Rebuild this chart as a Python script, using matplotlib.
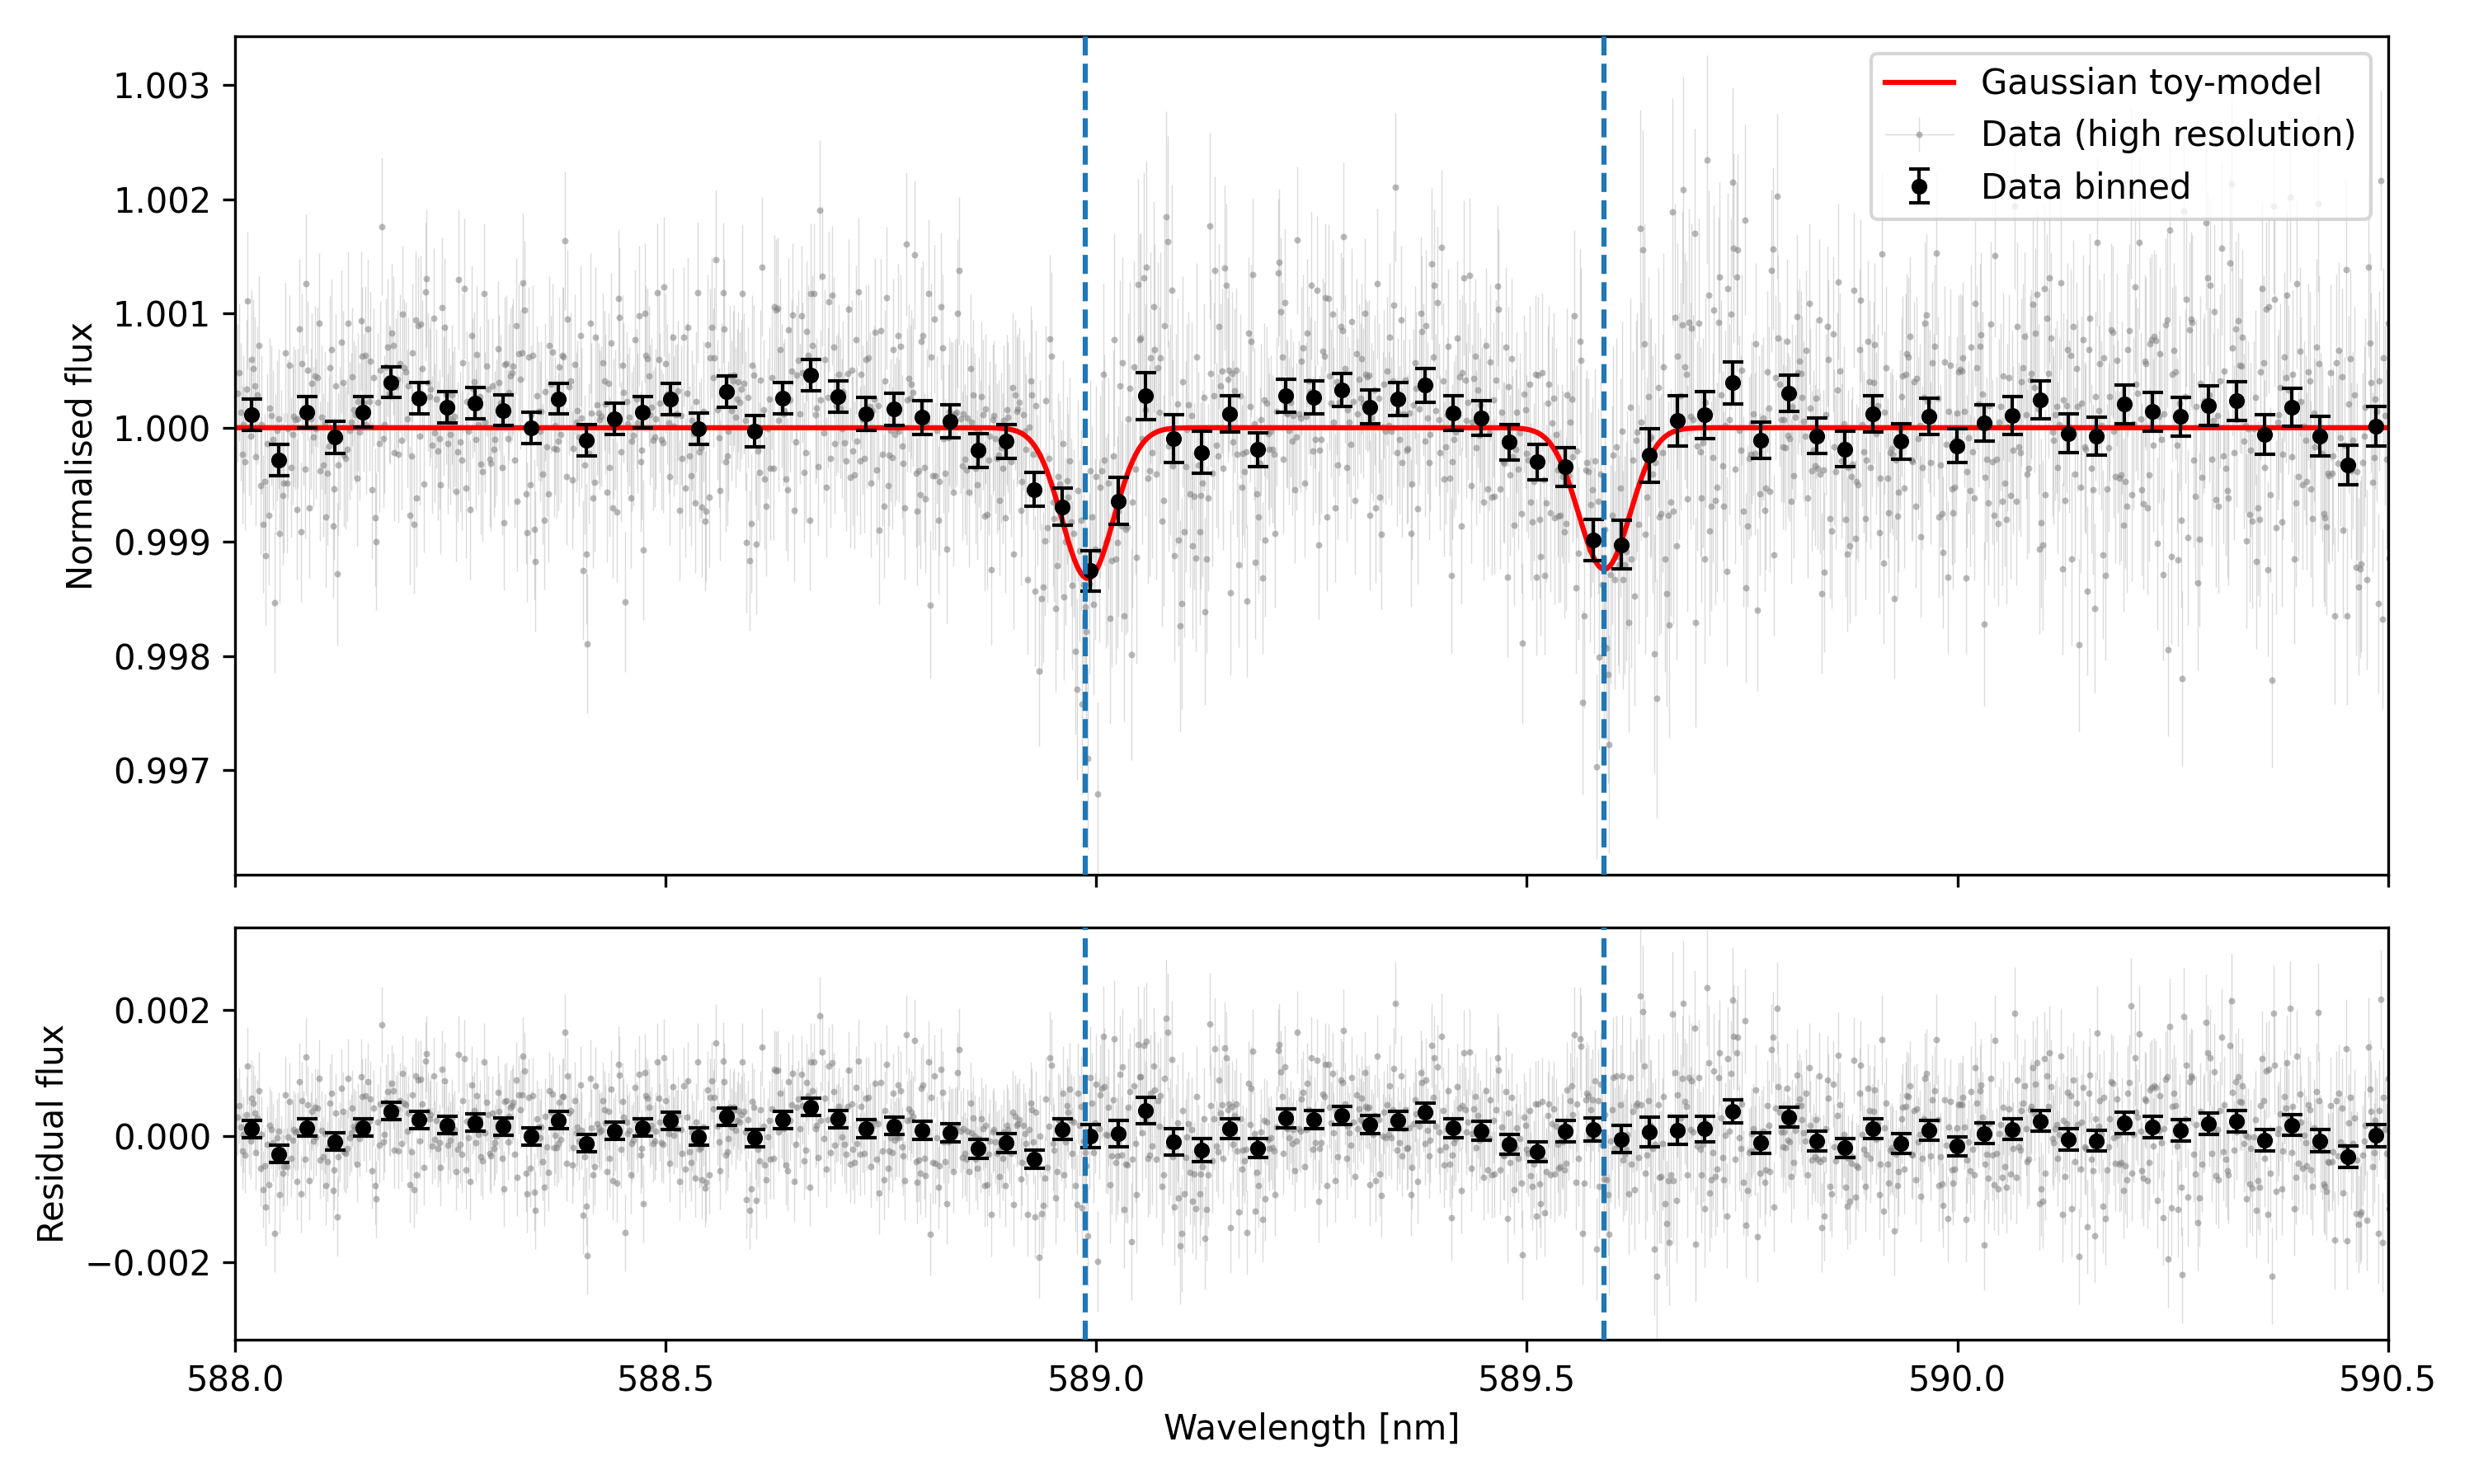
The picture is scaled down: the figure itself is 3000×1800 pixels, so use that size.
import numpy as np
import matplotlib
matplotlib.use("Agg")
import matplotlib.pyplot as plt

# ---------------- data ----------------
# binned normalised flux (77 bins, 588.0 - 590.5 nm)
binned_flux = [
    1.000113, 0.999718, 1.000133, 0.999916, 1.000137, 1.000398, 1.000258, 1.000176, 1.000212, 1.000152,
    1.000000, 1.000253, 0.999887, 1.000080, 1.000133, 1.000248, 0.999993, 1.000313, 0.999969, 1.000258,
    1.000458, 1.000272, 1.000120, 1.000161, 1.000089, 1.000055, 0.999800, 0.999880, 0.999458, 0.999308,
    0.998747, 0.999357, 1.000277, 0.999904, 0.999783, 1.000120, 0.999807, 1.000282, 1.000265, 1.000330,
    1.000181, 1.000253, 1.000373, 1.000128, 1.000084, 0.999872, 0.999699, 0.999658, 0.999017, 0.998976,
    0.999759, 1.000060, 1.000113, 1.000393, 0.999892, 1.000301, 0.999928, 0.999814, 1.000118, 0.999880,
    1.000096, 0.999843, 1.000043, 1.000108, 1.000241, 0.999949, 0.999928, 1.000205, 1.000140, 1.000096,
    1.000193, 1.000234, 0.999940, 1.000176, 0.999928, 0.999675, 1.000012,
]
# binned 1-sigma errors (units of 1e-4)
binned_err_e4 = [
    1.35, 1.37, 1.37, 1.40, 1.35, 1.35, 1.35, 1.37, 1.37, 1.33,
    1.37, 1.35, 1.37, 1.37, 1.37, 1.37, 1.37, 1.37, 1.37, 1.40,
    1.37, 1.37, 1.45, 1.40, 1.45, 1.45, 1.47, 1.47, 1.47, 1.64,
    1.78, 2.07, 2.07, 2.07, 1.83, 1.61, 1.49, 1.45, 1.45, 1.45,
    1.47, 1.45, 1.49, 1.52, 1.52, 1.57, 1.54, 1.69, 1.81, 2.14,
    2.34, 2.22, 2.05, 1.86, 1.59, 1.61, 1.57, 1.52, 1.59, 1.57,
    1.59, 1.49, 1.61, 1.64, 1.66, 1.69, 1.66, 1.69, 1.69, 1.71,
    1.71, 1.71, 1.71, 1.66, 1.73, 1.73, 1.76,
]

# wavelength grid of the high-resolution spectrum
WL_START = 588.003      # nm
WL_STEP = 0.0016235     # nm per pixel
PIX_PER_BIN = 20

# Gaussian toy-model parameters (two Na D lines)
line_centres = [588.990, 589.590]
line_depths = [0.00132, 0.00124]
line_sigma = 0.030
line_markers = [588.987, 589.590]   # dashed vertical lines

xlim = (588.0, 590.5)
ylim_top = (0.99608, 1.00343)
ylim_bot = (-0.00322, 0.00330)
xticks = [588.0, 588.5, 589.0, 589.5, 590.0, 590.5]
yticks_top = [0.997, 0.998, 0.999, 1.000, 1.001, 1.002, 1.003]
yticks_bot = [-0.002, 0.000, 0.002]

# ---------------- derived arrays ----------------
yb = np.array(binned_flux)
eb = np.array(binned_err_e4) * 1e-4
nb = len(yb)
npix = nb * PIX_PER_BIN
x_hr = WL_START + WL_STEP * np.arange(npix)
xb = x_hr.reshape(nb, PIX_PER_BIN).mean(axis=1)


def toy_model(x):
    m = np.ones_like(x, dtype=float)
    for c, d in zip(line_centres, line_depths):
        m -= d * np.exp(-0.5 * ((x - c) / line_sigma) ** 2)
    return m


# high-resolution points: per-pixel scatter consistent with the binned
# values/errors (texture only; every bin mean equals the binned value read)
rng = np.random.default_rng(7)
sig_hr = np.repeat(eb * np.sqrt(PIX_PER_BIN), PIX_PER_BIN)
noise = rng.standard_normal(npix).reshape(nb, PIX_PER_BIN)
noise -= noise.mean(axis=1, keepdims=True)
noise = noise.ravel() * sig_hr
mod_hr = toy_model(x_hr)
bin_mod_mean = mod_hr.reshape(nb, PIX_PER_BIN).mean(axis=1)
y_hr = mod_hr + np.repeat(yb - bin_mod_mean, PIX_PER_BIN) + noise
res_hr = y_hr - mod_hr
res_b = yb - bin_mod_mean

x_mod = np.linspace(xlim[0], xlim[1], 3000)
y_mod = toy_model(x_mod)

# ---------------- figure ----------------
fig = plt.figure(figsize=(10, 6), dpi=300)
ax1 = fig.add_axes([0.0951, 0.4103, 0.8701, 0.5653])
ax2 = fig.add_axes([0.0951, 0.0972, 0.8701, 0.2778], sharex=ax1)

LINE_GREY = (0.5, 0.5, 0.5, 0.28)
DOT_GREY = (0.5, 0.5, 0.5, 0.55)
hr_kw = dict(fmt='o', ls='-', color=LINE_GREY, ecolor=LINE_GREY, mfc=DOT_GREY, mec='none',
             lw=0.35, elinewidth=0.35, ms=1.9)
b_kw = dict(fmt='o', color='black', ms=3.6, capsize=3, elinewidth=1, capthick=1)

hr1 = ax1.errorbar(x_hr, y_hr, yerr=sig_hr, label='Data (high resolution)', zorder=1, **hr_kw)
ax1.plot(x_mod, y_mod, color='red', lw=1.5, label='Gaussian toy-model', zorder=2)
ax1.errorbar(xb, yb, yerr=eb, label='Data binned', zorder=3, **b_kw)
for xl in line_markers:
    ax1.axvline(xl, color='tab:blue', ls='--', lw=1.5, zorder=4)

hr2 = ax2.errorbar(x_hr, res_hr, yerr=sig_hr, zorder=1, **hr_kw)
ax2.errorbar(xb, res_b, yerr=eb, zorder=3, **b_kw)
for xl in line_markers:
    ax2.axvline(xl, color='tab:blue', ls='--', lw=1.5, zorder=4)

ax1.set_xlim(*xlim)
ax1.set_ylim(*ylim_top)
ax2.set_ylim(*ylim_bot)
ax1.set_xticks(xticks)
ax1.set_yticks(yticks_top)
ax2.set_yticks(yticks_bot)
ax1.ticklabel_format(axis='y', useOffset=False)
ax1.tick_params(labelbottom=False)

ax1.set_ylabel('Normalised flux')
ax2.set_ylabel('Residual flux')
ax2.set_xlabel('Wavelength [nm]')

ax1.legend(loc='upper right')
# the legend keeps its connecting-line glyph; in the plot only dots + error bars show
hr1[0].set_linestyle('none')
hr2[0].set_linestyle('none')

fig.savefig('out.png', dpi=300)
